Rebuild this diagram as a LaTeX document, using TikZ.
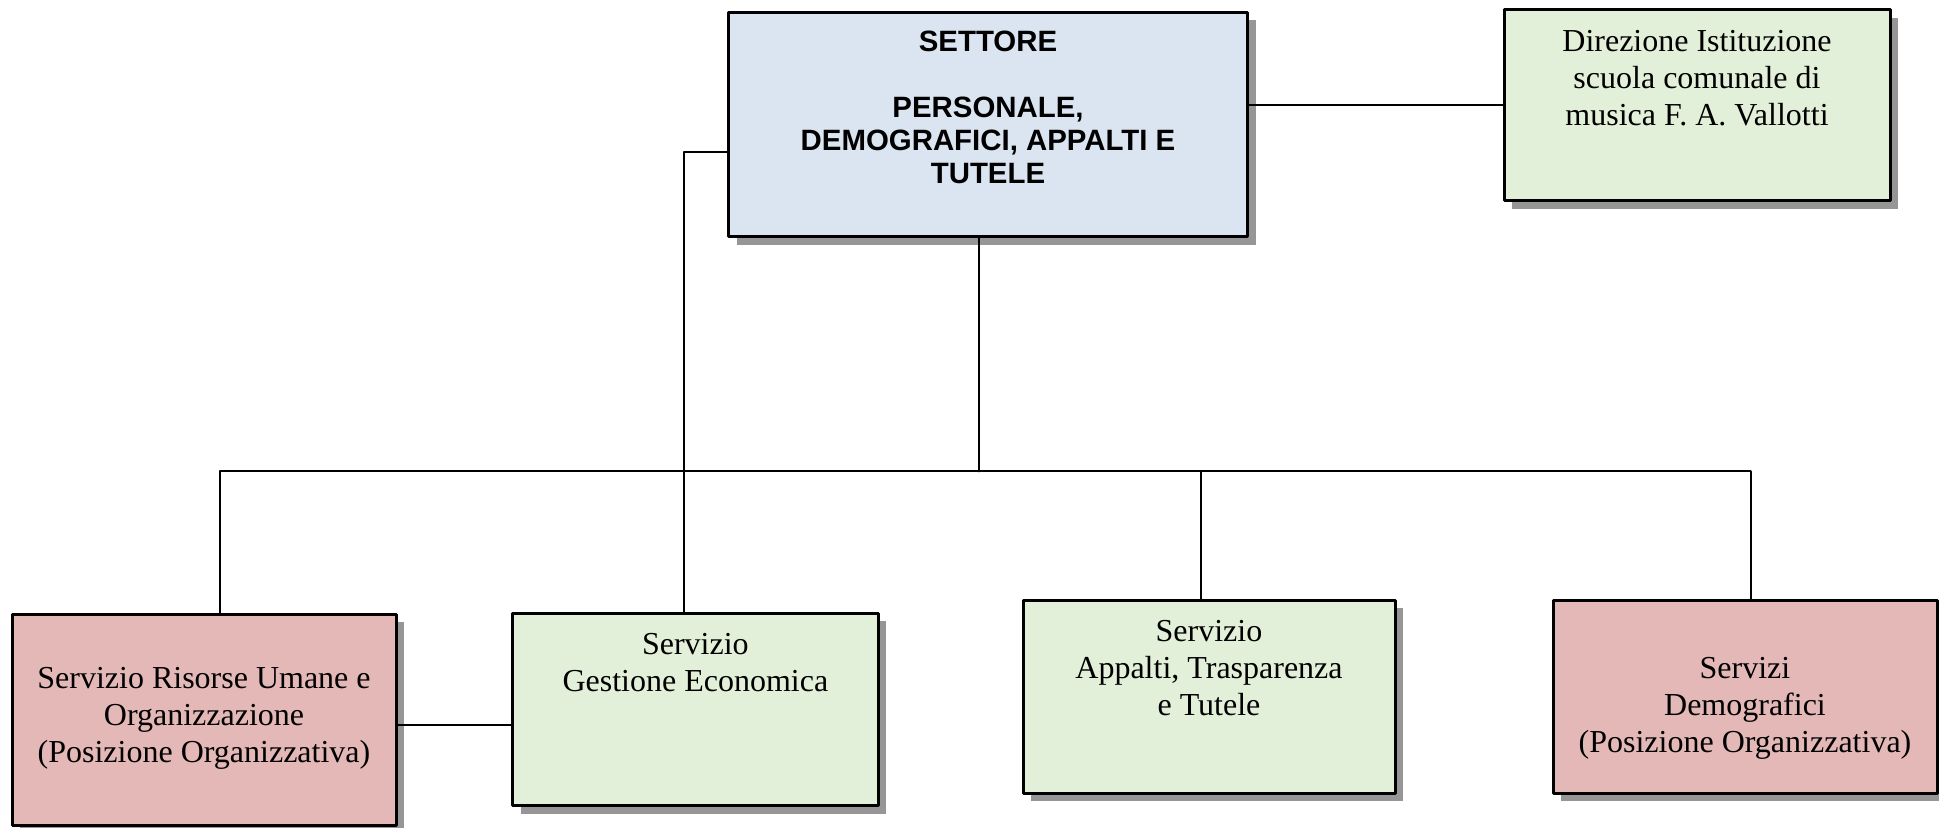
\documentclass[tikz,border=0pt]{standalone}
\usepackage{fontspec}
\setmainfont{Liberation Serif}
\setsansfont{Liberation Sans}
\usetikzlibrary{shadows}
\definecolor{dbe5f1}{rgb}{0.86,0.9,0.95}
\definecolor{e2efd9}{rgb}{0.89,0.94,0.85}
\definecolor{e5b8b7}{rgb}{0.9,0.72,0.72}
\definecolor{qqqqqq}{rgb}{0,0,0}
\definecolor{sombra}{rgb}{0.59,0.59,0.59}
\newcommand{\scatola}[4]{\parbox[t][#2][t]{#1}{\centering\vspace*{#3}#4}}

\begin{document}
\begin{tikzpicture}[line cap=round,line join=round,x=0.5pt,y=-0.5pt,
  unita/.style={draw=qqqqqq,line width=1.5pt,inner sep=0pt,outer sep=0pt,anchor=north west,
    drop shadow={shadow xshift=4pt,shadow yshift=-4pt,fill=sombra,opacity=1}},
  linea/.style={line width=1pt,color=qqqqqq}]
\useasboundingbox (0,0) rectangle (1939,828);
\node[unita,fill=dbe5f1] (set) at (728.5,12.5) {\scatola{259.5pt}{112.25pt}{9pt}{\sffamily\bfseries\fontsize{14.7}{16.6}\selectfont SETTORE\\[16.6pt]PERSONALE,\\DEMOGRAFICI, APPALTI E\\TUTELE}};
\node[unita,fill=e2efd9] (dir) at (1504,10) {\scatola{193pt}{95.5pt}{10.2pt}{\fontsize{16}{18.4}\selectfont Direzione Istituzione\\scuola comunale di\\musica F. A. Vallotti}};
\node[unita,fill=e5b8b7] (ru) at (12,614) {\scatola{192pt}{105.5pt}{26.7pt}{\fontsize{16}{18.4}\selectfont Servizio Risorse Umane e\\Organizzazione\\(Posizione Organizzativa)}};
\node[unita,fill=e2efd9] (ges) at (512.7,613.3) {\scatola{182.65pt}{96.2pt}{10pt}{\fontsize{16}{18.4}\selectfont Servizio\\Gestione Economica}};
\node[unita,fill=e2efd9] (app) at (1023,600) {\scatola{186pt}{96.5pt}{10.2pt}{\fontsize{16}{18.4}\selectfont Servizio\\Appalti, Trasparenza\\e Tutele}};
\node[unita,fill=e5b8b7] (dem) at (1553,600) {\scatola{192pt}{96.5pt}{28.7pt}{\fontsize{16}{18.4}\selectfont Servizi\\Demografici\\(Posizione Organizzativa)}};
% collegamenti
\coordinate (kg) at (684.3,152);
\coordinate (kr) at (450,724.5);
\coordinate (busL) at (220,471.5);
\coordinate (busC) at (979.3,471.5);
\coordinate (busA) at (1200.7,471.5);
\coordinate (busR) at (1750.7,471.5);
\draw[linea] (dir.west) -- (dir.west -| set.east);
\draw[linea] (set.west |- kg) -- (kg) -- (kg |- ges.north);
\draw[linea] (busC |- set.south) -- (busC);
\draw[linea] (busL) -- (busR);
\draw[linea] (busL) -- (busL |- ru.north);
\draw[linea] (busA) -- (busA |- app.north);
\draw[linea] (busR) -- (busR |- dem.north);
\draw[linea] (ru.east |- kr) -- (ges.west |- kr);
\end{tikzpicture}
\end{document}
